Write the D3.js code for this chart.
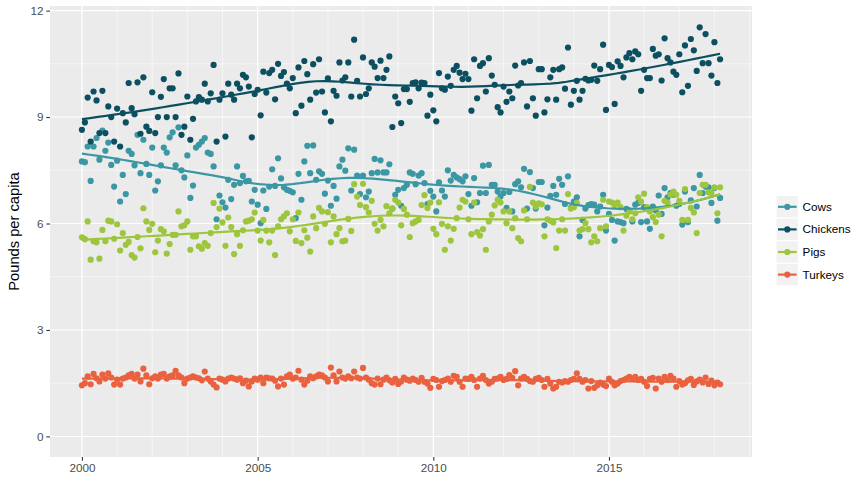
<!DOCTYPE html>
<html><head><meta charset="utf-8">
<script src="https://cdn.jsdelivr.net/npm/d3@7"></script>
<style>
body{margin:0;background:#fff}
svg{display:block}
text{font-family:"Liberation Sans",Arial,Helvetica,sans-serif}
</style>
</head><body>
<svg id="chart" width="867" height="497"></svg>
<script>
// ---------------- data ----------------
const seriesNames = ["Cows", "Chickens", "Pigs", "Turkeys"];
const seriesColors = ["#3A97A3", "#0B4F60", "#9DC53D", "#EA613F"];
const firstMonth = "2000-01";
const yTicks = [0, 3, 6, 9, 12];
const xTickYears = [2000, 2005, 2010, 2015];
const yTitle = "Pounds per capita";

const cows = [
7.75,7.73,8.17,7.20,8.17,8.41,7.80,8.62,8.05,8.28,
7.65,7.04,7.77,6.62,7.37,6.83,8.05,7.96,7.64,8.50,
7.42,8.36,7.68,7.37,8.14,6.93,7.19,7.64,8.14,8.00,
8.43,8.57,7.64,8.71,7.50,7.30,7.92,6.72,7.07,8.14,
8.22,8.31,8.41,8.00,7.96,7.61,6.12,6.79,6.60,6.45,
7.23,6.69,7.09,7.61,7.14,7.34,7.19,7.20,6.62,6.95,
6.53,6.01,6.93,6.41,7.04,7.53,7.06,7.84,7.27,7.02,
6.95,6.92,6.88,6.15,7.40,6.67,7.75,8.19,7.42,8.20,
7.23,7.47,7.40,6.84,7.21,6.50,7.06,6.70,7.61,7.80,
7.49,8.12,6.93,8.08,7.35,6.83,7.35,6.74,6.90,7.42,
7.82,7.44,7.78,7.44,7.44,7.67,6.42,6.81,6.95,6.50,
7.00,7.09,7.44,7.40,7.11,7.35,7.42,7.14,6.55,6.92,
6.76,6.34,7.16,6.93,6.76,7.50,7.21,7.37,7.30,7.25,
7.19,7.33,6.83,6.50,7.28,6.60,6.86,7.63,6.86,7.65,
7.09,7.09,6.90,6.76,6.86,6.44,6.89,6.34,7.11,7.19,
7.02,7.54,6.42,7.45,7.00,6.42,7.17,7.17,5.95,6.45,
6.78,7.06,6.81,7.26,7.09,6.55,7.33,6.44,6.62,6.74,
5.64,6.10,6.42,6.52,6.55,6.53,6.34,6.48,6.81,5.80,
6.27,6.10,5.52,6.06,6.04,6.01,6.41,6.37,6.06,6.53,
6.58,6.04,6.46,6.06,5.85,6.48,6.37,6.79,6.27,7.00,
6.74,6.86,6.81,6.50,6.55,5.97,6.90,6.04,6.65,7.00,
6.48,7.37,6.86,7.04,7.02,6.58,7.00,6.08,6.72
];
const chickens = [
8.64,8.85,9.55,8.31,9.72,9.47,8.55,9.74,8.55,9.30,
9.00,8.31,9.24,8.17,9.11,8.85,9.96,9.25,9.08,9.98,
8.53,10.12,8.73,8.61,9.70,8.55,9.00,9.57,10.07,9.00,
9.81,9.81,9.00,10.23,8.50,8.73,9.58,8.36,8.95,9.44,
9.56,9.49,9.94,9.44,9.67,10.47,8.31,9.49,9.67,8.45,
9.94,9.63,9.49,9.94,9.81,10.19,10.12,9.86,8.43,9.65,
9.77,9.05,10.28,9.69,10.24,10.33,9.50,10.50,10.16,10.27,
9.94,9.81,10.10,9.11,10.40,9.32,10.58,10.21,9.49,10.49,
9.69,10.63,9.72,9.13,10.09,8.88,9.74,9.60,10.54,10.03,
10.12,10.54,9.58,11.18,10.02,9.58,10.68,9.65,9.81,10.54,
10.42,10.10,10.59,10.10,10.33,10.71,8.72,9.58,9.39,8.83,
9.79,9.79,9.43,9.96,9.98,9.81,9.97,9.96,9.04,9.63,
9.19,8.88,10.24,9.81,9.77,10.14,9.88,10.33,10.44,10.25,
10.07,10.22,10.07,9.18,10.63,9.53,10.44,10.52,9.72,10.66,
10.17,9.91,9.28,9.13,9.86,9.43,9.72,9.53,10.45,9.89,
9.96,10.54,9.30,10.58,9.53,9.04,10.35,10.35,9.13,9.50,
10.12,10.33,9.49,10.35,10.40,9.80,10.96,9.35,9.74,10.02,
9.49,9.74,10.08,10.03,10.05,10.45,10.02,10.35,11.04,9.20,
10.47,10.41,9.37,10.57,10.44,10.12,10.68,10.80,10.63,10.85,
10.77,9.74,10.33,10.10,10.10,10.92,10.73,10.77,10.03,11.22,
10.66,10.54,10.28,10.19,10.77,9.70,11.02,9.88,11.20,10.88,
10.30,11.53,10.52,11.34,10.52,10.17,11.11,9.96,10.63
];
const pigs = [
5.61,5.56,6.06,4.98,5.50,5.47,5.01,5.82,5.50,6.08,
6.06,5.57,5.98,5.24,5.73,5.40,5.48,5.11,5.04,5.62,
5.30,6.43,6.06,5.82,5.99,5.19,5.52,5.84,5.78,5.15,
5.42,5.68,5.68,6.34,5.92,5.95,6.06,5.26,5.64,5.64,
5.36,5.29,5.45,5.37,5.73,6.58,5.90,6.42,6.03,5.37,
6.17,5.90,5.14,5.70,5.37,5.81,6.06,6.08,6.12,6.31,
5.80,5.52,6.10,5.80,5.47,5.80,5.11,5.92,6.12,6.20,
6.29,5.78,6.12,5.51,6.31,5.45,5.81,5.60,5.21,6.20,
5.87,6.44,6.34,5.99,6.32,5.47,6.20,5.70,5.87,5.50,
5.52,6.13,5.79,7.11,6.76,6.52,7.12,6.46,6.31,6.64,
5.99,5.80,6.10,5.92,6.49,6.29,6.42,6.67,6.59,5.95,
6.41,6.25,5.62,6.01,6.06,6.10,6.52,6.80,6.44,6.59,
5.85,5.70,6.60,5.99,5.26,5.92,5.52,5.85,6.15,6.45,
6.67,6.62,6.12,5.70,6.59,5.76,5.66,5.84,5.26,6.06,
6.25,6.51,6.67,6.59,6.34,6.01,6.34,5.87,6.15,5.59,
5.50,6.37,6.12,7.03,6.59,6.47,6.57,6.54,5.64,6.12,
6.08,6.03,5.31,5.80,6.12,5.80,6.83,6.42,6.46,6.58,
5.80,5.84,6.01,5.84,5.47,5.64,5.50,5.87,6.67,5.92,
6.62,6.59,6.52,6.59,6.46,5.80,6.22,6.34,6.12,6.29,
6.74,6.62,6.84,6.46,6.34,6.18,6.04,6.25,5.64,6.64,
6.59,6.81,6.90,6.81,6.64,6.10,6.97,6.10,6.44,6.31,
5.73,6.86,7.09,7.09,6.88,6.86,7.02,6.29,7.02
];
const turkeys = [
1.44,1.50,1.69,1.47,1.76,1.64,1.55,1.74,1.63,1.78,
1.66,1.46,1.60,1.46,1.63,1.66,1.72,1.76,1.63,1.74,
1.55,1.91,1.72,1.47,1.64,1.69,1.63,1.74,1.76,1.63,
1.69,1.72,1.85,1.72,1.66,1.50,1.63,1.66,1.69,1.66,
1.64,1.58,1.83,1.63,1.55,1.46,1.38,1.63,1.60,1.55,
1.63,1.66,1.63,1.60,1.64,1.50,1.57,1.41,1.55,1.63,
1.60,1.66,1.50,1.66,1.64,1.63,1.57,1.41,1.63,1.46,
1.69,1.74,1.63,1.66,1.85,1.60,1.46,1.57,1.69,1.64,
1.69,1.74,1.72,1.66,1.55,1.94,1.72,1.55,1.83,1.66,
1.63,1.69,1.64,1.83,1.66,1.63,1.93,1.66,1.60,1.50,
1.46,1.63,1.47,1.60,1.66,1.58,1.52,1.62,1.48,1.55,
1.66,1.60,1.57,1.63,1.59,1.54,1.65,1.54,1.49,1.37,
1.62,1.59,1.40,1.56,1.59,1.63,1.54,1.71,1.68,1.54,
1.40,1.63,1.62,1.68,1.59,1.40,1.63,1.71,1.59,1.49,
1.54,1.62,1.63,1.68,1.59,1.62,1.73,1.65,1.84,1.44,
1.63,1.68,1.62,1.56,1.54,1.62,1.65,1.59,1.40,1.62,
1.49,1.35,1.40,1.54,1.52,1.56,1.54,1.59,1.62,1.78,
1.62,1.54,1.59,1.35,1.56,1.37,1.44,1.52,1.46,1.42,
1.63,1.54,1.44,1.49,1.56,1.59,1.63,1.68,1.62,1.68,
1.59,1.62,1.54,1.42,1.62,1.65,1.35,1.63,1.54,1.68,
1.59,1.71,1.63,1.40,1.56,1.46,1.50,1.58,1.62,1.45,
1.55,1.60,1.52,1.66,1.48,1.57,1.44,1.52,1.47
];
const seriesValues = [cows, chickens, pigs, turkeys];

// ---------------- layout ----------------
const panel = {left: 50, right: 752, top: 6, bottom: 457};
const smoothSpan = 0.5;
const svg = d3.select("#chart");

const parseMonth = d3.timeParse("%Y-%m");
const start = parseMonth(firstMonth);
const monthDate = i => d3.timeMonth.offset(start, i);
const nMax = d3.max(seriesValues, s => s.length);
const t0 = monthDate(0), t1 = monthDate(nMax - 1);
const span = t1 - t0;
const x = d3.scaleTime()
  .domain([new Date(+t0 - 0.05 * span), new Date(+t1 + 0.05 * span)])
  .range([panel.left, panel.right]);
const y = d3.scaleLinear().domain([-0.58, 12.13]).range([panel.bottom, panel.top]);

svg.append("rect").attr("x", panel.left).attr("y", panel.top)
  .attr("width", panel.right - panel.left).attr("height", panel.bottom - panel.top)
  .attr("fill", "#EBEBEB");

const grid = svg.append("g");
const yMinor = yTicks.slice(0, -1).map((v, i) => (v + yTicks[i + 1]) / 2);
grid.selectAll(".ymin").data(yMinor).enter().append("line")
  .attr("x1", panel.left).attr("x2", panel.right)
  .attr("y1", d => y(d)).attr("y2", d => y(d))
  .attr("stroke", "#fff").attr("stroke-width", 0.53);
const yearLines = d3.timeYear.range(x.domain()[0], x.domain()[1]);
grid.selectAll(".xmin").data(yearLines).enter().append("line")
  .attr("y1", panel.top).attr("y2", panel.bottom)
  .attr("x1", d => x(d)).attr("x2", d => x(d))
  .attr("stroke", "#fff").attr("stroke-width", 0.53);
grid.selectAll(".ymaj").data(yTicks).enter().append("line")
  .attr("x1", panel.left).attr("x2", panel.right)
  .attr("y1", d => y(d)).attr("y2", d => y(d))
  .attr("stroke", "#fff").attr("stroke-width", 1.07);
const xTickDates = xTickYears.map(yr => new Date(yr, 0, 1));
grid.selectAll(".xmaj").data(xTickDates).enter().append("line")
  .attr("y1", panel.top).attr("y2", panel.bottom)
  .attr("x1", d => x(d)).attr("x2", d => x(d))
  .attr("stroke", "#fff").attr("stroke-width", 1.07);

const xAxis = d3.axisBottom(x).tickValues(xTickDates).tickFormat(d3.timeFormat("%Y"))
  .tickSizeInner(3.67).tickSizeOuter(0).tickPadding(2.9);
const gx = svg.append("g").attr("transform", `translate(0,${panel.bottom})`).call(xAxis);
const yAxis = d3.axisLeft(y).tickValues(yTicks).tickFormat(d3.format("d"))
  .tickSizeInner(3.67).tickSizeOuter(0).tickPadding(2.9);
const gy = svg.append("g").attr("transform", `translate(${panel.left},0)`).call(yAxis);
[gx, gy].forEach(g => {
  g.select(".domain").remove();
  g.selectAll(".tick line").attr("stroke", "#333333").attr("stroke-width", 1.07);
  g.selectAll(".tick text").attr("fill", "#4D4D4D").attr("font-size", "11.7px")
    .attr("font-family", "'Liberation Sans', Arial, sans-serif");
});

svg.append("text").attr("transform", `translate(18.5,${(panel.top + panel.bottom) / 2}) rotate(-90)`)
  .attr("text-anchor", "middle").attr("font-size", "14.7px").attr("fill", "#000").text(yTitle);

// loess smoother (tricube weights, local quadratic)
function loess(xs, ys, spanFrac, evalX) {
  const n = xs.length, q = Math.max(3, Math.floor(n * spanFrac));
  return evalX.map(x0 => {
    const d = xs.map(v => Math.abs(v - x0));
    const h = d.slice().sort((a, b) => a - b)[q - 1] * 1.000001;
    const S = [[0,0,0],[0,0,0],[0,0,0]], B = [0,0,0];
    for (let i = 0; i < n; i++) {
      const u = d[i] / h;
      if (u >= 1) continue;
      const w = Math.pow(1 - u * u * u, 3);
      const t = (xs[i] - x0) / 10;
      const b = [1, t, t * t];
      for (let j = 0; j < 3; j++) {
        B[j] += w * b[j] * ys[i];
        for (let k = 0; k < 3; k++) S[j][k] += w * b[j] * b[k];
      }
    }
    const M = S.map((r, i) => r.concat([B[i]]));
    for (let c = 0; c < 3; c++) {
      let p = c;
      for (let r = c + 1; r < 3; r++) if (Math.abs(M[r][c]) > Math.abs(M[p][c])) p = r;
      [M[c], M[p]] = [M[p], M[c]];
      for (let r = c + 1; r < 3; r++) {
        const f = M[r][c] / M[c][c];
        for (let k = c; k < 4; k++) M[r][k] -= f * M[c][k];
      }
    }
    const sol = [0,0,0];
    for (let r = 2; r >= 0; r--) {
      let s = M[r][3];
      for (let k = r + 1; k < 3; k++) s -= M[r][k] * sol[k];
      sol[r] = s / M[r][r];
    }
    return sol[0];
  });
}

const pts = svg.append("g");
seriesValues.forEach((vals, si) => {
  pts.selectAll(null).data(vals).enter().append("circle")
    .attr("cx", (d, i) => x(monthDate(i)))
    .attr("cy", d => y(d))
    .attr("r", 3.1)
    .attr("fill", seriesColors[si]);
});

const lines = svg.append("g");
const line = d3.line().x(d => x(d[0])).y(d => y(d[1]));
seriesValues.forEach((vals, si) => {
  const xs = vals.map((d, i) => i);
  const ev = d3.range(80).map(k => k * (vals.length - 1) / 79);
  const fit = loess(xs, vals, smoothSpan, ev);
  const tEnd = monthDate(vals.length - 1);
  const pts2 = ev.map((e, k) => [new Date(+t0 + (e / (vals.length - 1)) * (tEnd - t0)), fit[k]]);
  lines.append("path").attr("d", line(pts2)).attr("fill", "none")
    .attr("stroke", seriesColors[si]).attr("stroke-width", 2.2);
});

const lg = svg.append("g").attr("transform", "translate(776,195.5)");
const keyS = 22.6;
seriesNames.forEach((name, i) => {
  const g = lg.append("g").attr("transform", `translate(0,${i * keyS})`);
  g.append("rect").attr("width", keyS).attr("height", keyS).attr("fill", "#F2F2F2")
    .attr("stroke", "#fff").attr("stroke-width", 1);
  g.append("line").attr("x1", 2).attr("x2", keyS - 2).attr("y1", keyS / 2).attr("y2", keyS / 2)
    .attr("stroke", seriesColors[i]).attr("stroke-width", 2.2);
  g.append("circle").attr("cx", keyS / 2).attr("cy", keyS / 2).attr("r", 3.1).attr("fill", seriesColors[i]);
  g.append("text").attr("x", keyS + 4).attr("y", keyS / 2).attr("dy", "0.35em")
    .attr("font-size", "11.7px").attr("fill", "#000").text(name);
});
</script>
</body></html>
